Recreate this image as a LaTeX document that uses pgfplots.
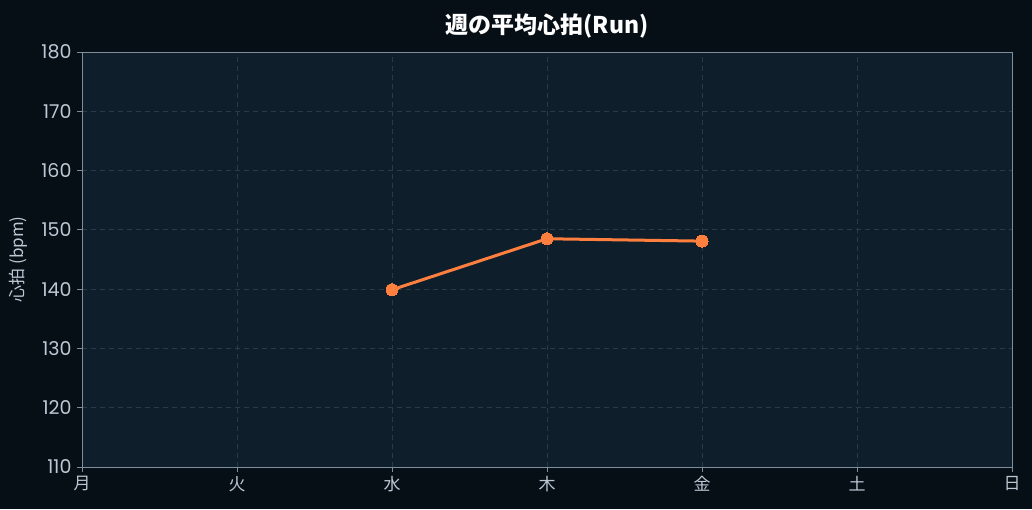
\documentclass[border=0pt]{standalone}
\usepackage{fontspec}
\usepackage{pgfplots}
\pgfplotsset{compat=1.18}
\setmainfont{Poppins}
\newfontfamily\cjk{Noto Sans CJK JP}

\definecolor{bgcol}{HTML}{060E16}
\definecolor{panel}{HTML}{0F1E2B}
\definecolor{spine}{HTML}{7F8E9C}
\definecolor{gridc}{HTML}{2B3A47}
\definecolor{tickc}{HTML}{BCC8D4}
\definecolor{linec}{HTML}{FF7F3F}

\pgfplotstableread{
x y
2 139.9
3 148.5
4 148.1
}\hrdata

\begin{document}
\begin{tikzpicture}
\fill[bgcol] (0,0) rectangle (1032pt,509pt);
\useasboundingbox (0,0) rectangle (1032pt,509pt);
\begin{axis}[
    at={(82pt,42pt)}, anchor=south west,
    width=930pt, height=415pt, scale only axis,
    xmin=0, xmax=6, ymin=110, ymax=180,
    xtick={0,...,6},
    xticklabels={月,火,水,木,金,土,日},
    ytick={110,120,...,180},
    axis background/.style={fill=panel},
    axis line style={spine, line width=1pt},
    tick style={spine, line width=1pt},
    major tick length=5pt,
    tick align=outside,
    xtick pos=bottom, ytick pos=left,
    grid=major,
    major grid style={gridc, dashed, line width=0.8pt, dash pattern=on 5pt off 4pt},
    xticklabel style={font=\fontsize{17}{19}\selectfont\cjk, text=tickc, yshift=-1pt},
    yticklabel style={font=\fontsize{19}{21}\selectfont, text=tickc, xshift=-2pt},
    /pgf/number format/assume math mode=true,
    ylabel={\cjk 心拍 (bpm)},
    ylabel style={font=\fontsize{17}{19}\selectfont, text=tickc,
        at={(axis description cs:-0.069,0.5)}, anchor=center, rotate=0},
    title={\cjk\bfseries 週の平均心拍(Run)},
    title style={font=\fontsize{23}{25}\selectfont, text=white, yshift=4pt},
]
\addplot[linec, line width=3pt, mark=*, mark size=6pt,
    mark options={fill=linec, draw=linec, line width=0pt}] table[x=x, y=y] {\hrdata};
\end{axis}
\end{tikzpicture}
\end{document}
